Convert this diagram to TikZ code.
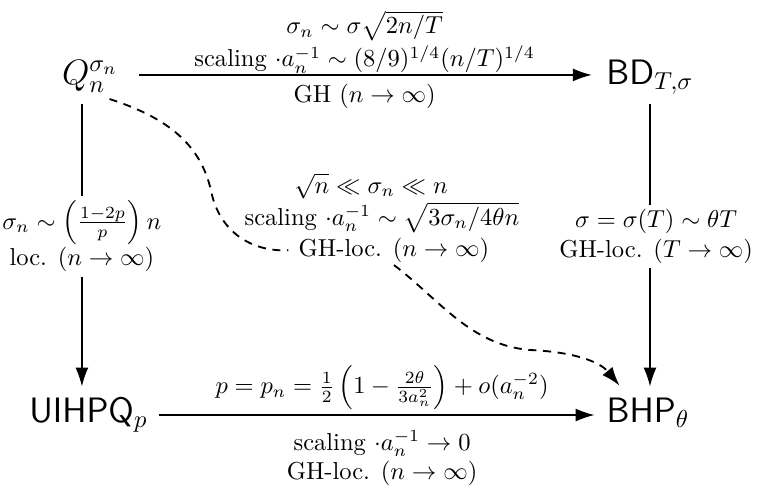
\documentclass[tikz,border=0pt]{standalone}
\usetikzlibrary{arrows.meta}
\begin{document}
\begin{tikzpicture}[x=0.408pt,y=-0.408pt,
  obj/.style={font=\Large, inner sep=3.33pt},
  toprow/.style={text height=10pt, text depth=2.6pt},
  botrow/.style={text height=9pt, text depth=3.3pt},
  arr/.style={-{Latex[length=7.7pt,width=5.3pt]}, line width=0.5pt},
  dsh/.style={line width=0.75pt, dash pattern=on 3.3pt off 2.7pt},
  lab/.style={font=\normalsize, align=center},
  desc/.style={lab, fill=white, inner sep=2pt}]
\useasboundingbox (0,0) rectangle (759,486);

\node[obj, toprow, anchor=base] (Q) at (90,84) {$Q_n^{\sigma_n}$};
\node[obj, toprow, anchor=base] (BD) at (650,84) {$\mathsf{BD}_{T,\sigma}$};
\node[obj, botrow, anchor=base] (U) at (88.5,422) {$\mathsf{UIHPQ}_p$};
\node[obj, botrow, anchor=base] (B) at (648,422) {$\mathsf{BHP}_\theta$};

% top arrow
\draw[arr, shorten <=5pt, shorten >=2.5pt] (Q) -- (BD)
  node[midway, above, lab, inner sep=0.5pt, xshift=1pt] {$\sigma_n\sim\sigma\sqrt{2n/T}$\\[1.5pt] scaling $\cdot a_n^{-1}\sim(8/9)^{1/4}(n/T)^{1/4}$}
  node[midway, below, lab, xshift=1pt] {GH $(n\to\infty)$};

% bottom arrow
\draw[arr, shorten <=1pt, shorten >=1.5pt] (U) -- (B)
  node[midway, above, lab, inner sep=2pt, xshift=2pt] {$p=p_n=\frac12\left(1-\frac{2\theta}{3a_n^2}\right)+o(a_n^{-2})$}
  node[midway, below, lab, inner sep=6pt, xshift=2pt] {scaling $\cdot a_n^{-1}\to 0$\\ GH-loc. $(n\to\infty)$};

% left vertical arrow
\draw[arr, shorten <=2pt, shorten >=2pt] ([xshift=-3.3pt]Q.south) -- ([xshift=-3.3pt]Q.south |- U.north)
  node[pos=0.47, desc] {$\sigma_n\sim\left(\frac{1-2p}{p}\right)n$\\ loc. $(n\to\infty)$};

% right vertical arrow
\draw[arr, shorten <=2pt, shorten >=2pt] (BD.south) -- (BD.south |- B.north)
  node[pos=0.47, desc, xshift=2.5pt] {$\sigma=\sigma(T)\sim\theta T$\\ GH-loc. $(T\to\infty)$};

% middle label
\node[lab, anchor=base] (m1) at (371,193) {$\sqrt{n}\ll\sigma_n\ll n$};
\node[lab, anchor=base] (m2) at (382,225) {scaling $\cdot a_n^{-1}\sim\sqrt{3\sigma_n/4\theta n}$};
\node[lab, anchor=base, inner sep=1pt] (m3) at (394,256) {GH-loc. $(n\to\infty)$};

% dashed curve
\draw[dsh, shorten >=3pt] (Q.-51) .. controls (175,120) and (203,150) .. (212,195)
  .. controls (222,235) and (255,252) .. (m3.west);
\draw[dsh, -{Latex[length=7.7pt,width=5.3pt]}, shorten >=3pt] (m3.south)
  .. controls (440,300) and (470,345) .. (530,350)
  .. controls (575,352) and (600,362) .. (B.135);
\end{tikzpicture}
\end{document}
